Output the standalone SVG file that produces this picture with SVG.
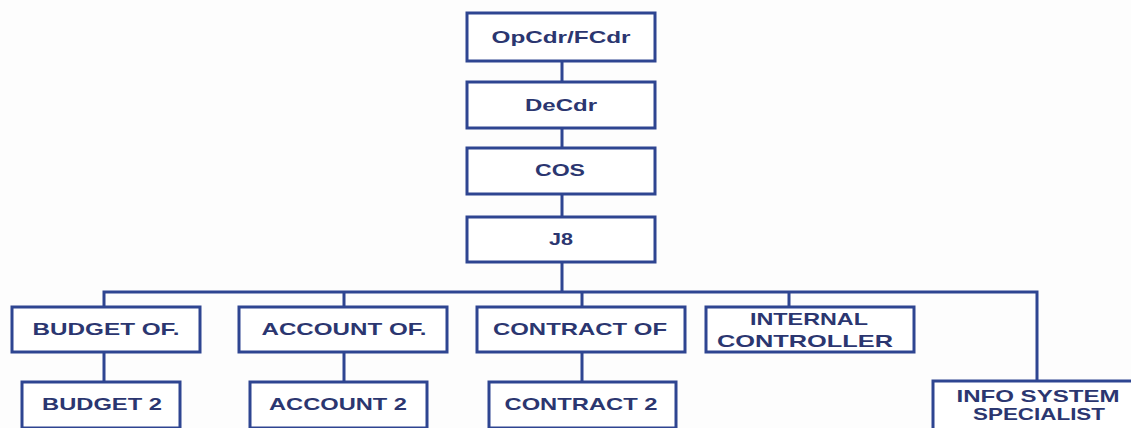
<svg xmlns="http://www.w3.org/2000/svg" width="1131" height="428" viewBox="0 0 1131 428">
  <style>
    .box { fill: #ffffff; stroke: #2e4591; stroke-width: 3; }
    .wire { fill: none; stroke: #2e4591; stroke-width: 3; }
    .lbl { font-family: "Liberation Sans", Arial, sans-serif; font-weight: bold; font-size: 17px; fill: #2b3670; text-anchor: middle; }
  </style>
  <rect width="1131" height="428" fill="#fdfdfd"/>

  <!-- reporting lines -->
  <g id="connectors">
    <path class="wire" d="M562 61 V82 M562 128 V148 M562 194 V217 M562 262 V292"/>
    <path class="wire" d="M104 307 V292 H1037 V381"/>
    <path class="wire" d="M344 292 V307 M582 292 V307 M789 292 V307"/>
    <path class="wire" d="M104 352 V382 M344 352 V382 M582 352 V382"/>
  </g>

  <g id="opcdr">
    <rect class="box" x="467" y="13" width="188" height="48"/>
    <text class="lbl" x="561" y="43" textLength="139" lengthAdjust="spacingAndGlyphs">OpCdr/FCdr</text>
  </g>
  <g id="decdr">
    <rect class="box" x="467" y="82" width="188" height="46"/>
    <text class="lbl" x="561" y="111" textLength="72" lengthAdjust="spacingAndGlyphs">DeCdr</text>
  </g>
  <g id="cos">
    <rect class="box" x="467" y="148" width="188" height="46"/>
    <text class="lbl" x="560" y="176" textLength="50" lengthAdjust="spacingAndGlyphs">COS</text>
  </g>
  <g id="j8">
    <rect class="box" x="467" y="217" width="188" height="45"/>
    <text class="lbl" x="561" y="245" textLength="24" lengthAdjust="spacingAndGlyphs">J8</text>
  </g>

  <g id="budget-of">
    <rect class="box" x="12" y="307" width="188" height="45"/>
    <text class="lbl" x="106" y="335" textLength="147" lengthAdjust="spacingAndGlyphs">BUDGET OF.</text>
  </g>
  <g id="account-of">
    <rect class="box" x="239" y="307" width="208" height="45"/>
    <text class="lbl" x="344" y="335" textLength="165" lengthAdjust="spacingAndGlyphs">ACCOUNT OF.</text>
  </g>
  <g id="contract-of">
    <rect class="box" x="477" y="307" width="208" height="45"/>
    <text class="lbl" x="580" y="335" textLength="174" lengthAdjust="spacingAndGlyphs">CONTRACT OF</text>
  </g>
  <g id="internal-controller">
    <rect class="box" x="706" y="307" width="208" height="45"/>
    <text class="lbl" x="809" y="325" textLength="118" lengthAdjust="spacingAndGlyphs">INTERNAL</text>
    <text class="lbl" x="805" y="347" textLength="176" lengthAdjust="spacingAndGlyphs">CONTROLLER</text>
  </g>

  <g id="budget-2">
    <rect class="box" x="22" y="382" width="158" height="46"/>
    <text class="lbl" x="102" y="410" textLength="120" lengthAdjust="spacingAndGlyphs">BUDGET 2</text>
  </g>
  <g id="account-2">
    <rect class="box" x="250" y="382" width="177" height="46"/>
    <text class="lbl" x="338" y="410" textLength="138" lengthAdjust="spacingAndGlyphs">ACCOUNT 2</text>
  </g>
  <g id="contract-2">
    <rect class="box" x="489" y="382" width="187" height="46"/>
    <text class="lbl" x="581" y="410" textLength="153" lengthAdjust="spacingAndGlyphs">CONTRACT 2</text>
  </g>
  <g id="info-system-specialist">
    <rect class="box" x="933" y="381" width="210" height="60"/>
    <text class="lbl" x="1038" y="402" textLength="163" lengthAdjust="spacingAndGlyphs">INFO SYSTEM</text>
    <text class="lbl" x="1039" y="420" textLength="132" lengthAdjust="spacingAndGlyphs">SPECIALIST</text>
  </g>
</svg>
